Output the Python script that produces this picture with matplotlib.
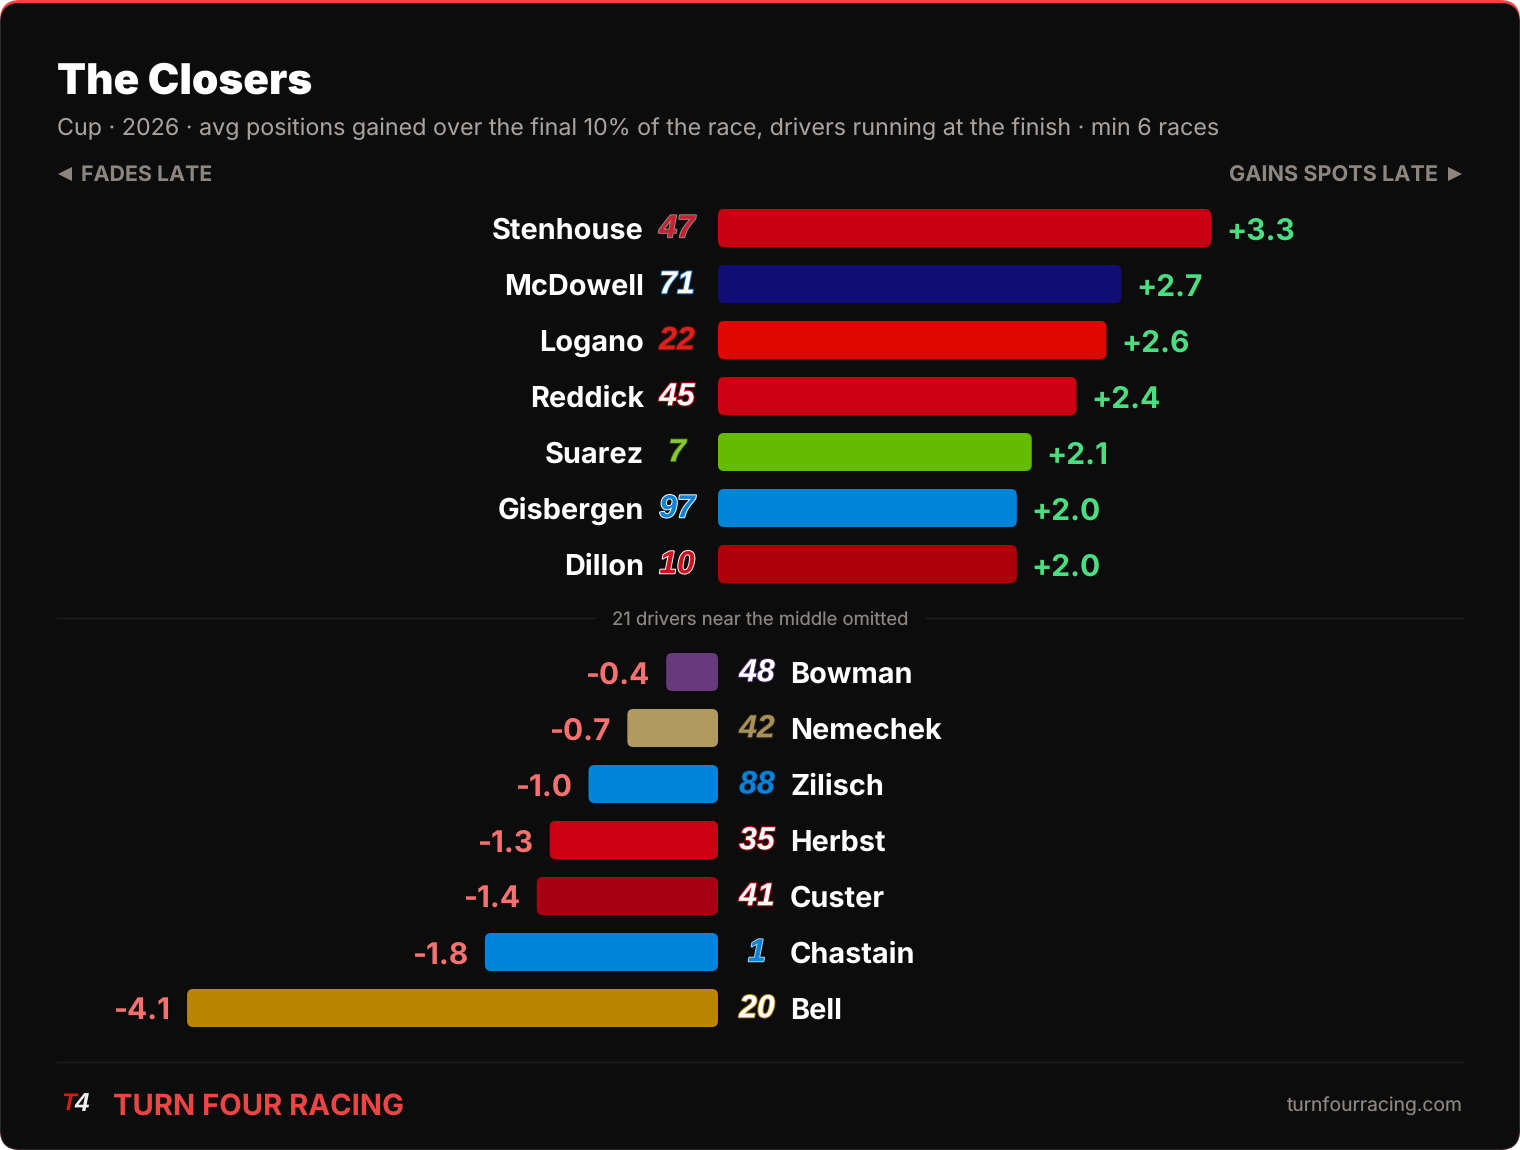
import matplotlib
matplotlib.use("Agg")
import matplotlib.pyplot as plt
import matplotlib.patheffects as pe
from matplotlib.patches import FancyBboxPatch

plt.rcParams['font.family'] = ['Inter', 'DejaVu Sans']
plt.rcParams['text.hinting'] = 'no_hinting'
plt.rcParams['text.hinting_factor'] = 1

W, H = 1520, 1150

# drivers near the top of the table
top_names = ["Stenhouse", "McDowell", "Logano", "Reddick", "Suarez", "Gisbergen", "Dillon"]
top_values = [3.3, 2.7, 2.6, 2.4, 2.1, 2.0, 2.0]
top_colors = ["#c80012", "#100e75", "#de0800", "#cc0012", "#65bb00", "#0084d8", "#ae0008"]
top_numbers = ["47", "71", "22", "45", "7", "97", "10"]
top_fill = ["#c8202e", "#ffffff", "#e0201c", "#ffffff", "#8cc832", "#0a84d8", "#d01020"]
top_edge = ["#8a8a8a", "#1a70b8", "#701010", "#c80012", "#2c4a10", "#ffffff", "#ffffff"]

# drivers at the bottom
bot_names = ["Bowman", "Nemechek", "Zilisch", "Herbst", "Custer", "Chastain", "Bell"]
bot_values = [-0.4, -0.7, -1.0, -1.3, -1.4, -1.8, -4.1]
bot_colors = ["#673a7e", "#b09a5e", "#0084d8", "#cc0012", "#a80012", "#0084d8", "#b98400"]
bot_numbers = ["48", "42", "88", "35", "41", "1", "20"]
bot_fill = ["#ffffff", "#a8925a", "#0a84d8", "#ffffff", "#ffffff", "#0a84d8", "#ffffff"]
bot_edge = ["#4a2a6a", "#2a2618", "#0a2a50", "#c80012", "#c80012", "#b0d0e8", "#b98400"]

ZERO_X = 718
TOP_SCALE = 149.4
BOT_SCALE = 129.5
ROW = 56
BAR_H = 38
BG = "#0c0c0d"

fig = plt.figure(figsize=(W / 100, H / 100), dpi=100, facecolor="white")

# background card, everything decorative is laid out in pixels
bg = fig.add_axes([0, 0, 1, 1])
bg.set_xlim(0, W)
bg.set_ylim(H, 0)
bg.axis("off")
bg.add_patch(FancyBboxPatch((0, 0), W, H, boxstyle="round,pad=0,rounding_size=20",
                            fc="#f24444", ec="none"))
bg.add_patch(FancyBboxPatch((0, 3), W, H - 3, boxstyle="round,pad=0,rounding_size=20",
                            fc="#2a2a2c", ec="none"))
bg.add_patch(FancyBboxPatch((1, 3), W - 2, H - 4, boxstyle="round,pad=0,rounding_size=19",
                            fc=BG, ec="none"))


def draw_rows(values, colors, y_first, scale):
    # one axes per group: same zero line, own x scale
    n = len(values)
    y0 = y_first - ROW / 2
    h = ROW * n
    ax = fig.add_axes([0, 1 - (y0 + h) / H, 1, h / H])
    ax.set_xlim(-ZERO_X / scale, (W - ZERO_X) / scale)
    ax.set_ylim(n - 0.5, -0.5)
    ax.axis("off")
    ax.patch.set_alpha(0)
    bar_h = BAR_H / ROW
    for i, (v, c) in enumerate(zip(values, colors)):
        ax.add_patch(FancyBboxPatch((min(v, 0), i - bar_h / 2), abs(v), bar_h,
                                    boxstyle="round,pad=0,rounding_size=%f" % (6 / scale),
                                    mutation_aspect=scale / ROW, fc=c, ec="none"))
    return ax


def number_badge(x, y, num, fill, edge):
    bg.text(x, y, num, fontsize=23, family="Liberation Sans", style="italic", weight="bold",
            color=fill, ha="center", va="center",
            path_effects=[pe.withStroke(linewidth=1.4, foreground=edge)])


ax_top = draw_rows(top_values, top_colors, 228, TOP_SCALE)
ax_bot = draw_rows(bot_values, bot_colors, 672, BOT_SCALE)

for i in range(7):
    y = 229 + i * ROW
    bg.text(644, y + 2, top_names[i], color="#ffffff", fontsize=20.8, weight="bold",
            ha="right", va="center")
    number_badge(677, y, top_numbers[i], top_fill[i], top_edge[i])
    ax_top.text(top_values[i] + 15 / TOP_SCALE, i + 4 / ROW, "+%.1f" % top_values[i], color="#4ade80",
                fontsize=21.5, weight="bold", ha="left", va="center")

    y = 673 + i * ROW
    bg.text(790, y + 2, bot_names[i], color="#ffffff", fontsize=20.8, weight="bold",
            ha="left", va="center")
    number_badge(757, y, bot_numbers[i], bot_fill[i], bot_edge[i])
    ax_bot.text(bot_values[i] - 16 / BOT_SCALE, i + 4 / ROW, "%.1f" % bot_values[i], color="#f87171",
                fontsize=21.5, weight="bold", ha="right", va="center")

# header
bg.text(57, 83, "The Closers", color="#ffffff", fontsize=30.5, weight="black", va="center")
bg.text(57, 129, "Cup · 2026 · avg positions gained over the final 10% of the race, "
        "drivers running at the finish · min 6 races", color="#a8a29e", fontsize=16.75, va="center")
bg.text(81, 176, "FADES LATE", color="#8c8680", fontsize=15.4, weight="bold", va="center")
bg.text(1438, 176, "GAINS SPOTS LATE", color="#8c8680", fontsize=15.6, weight="bold",
        va="center", ha="right")
bg.fill([58, 72, 72], [174, 167, 181], color="#8c8680", lw=0)
bg.fill([1462, 1448, 1448], [174, 167, 181], color="#8c8680", lw=0)

# separator between the two groups
bg.plot([57, 594], [617.5, 617.5], color="#1f1f21", lw=1)
bg.plot([926, 1463], [617.5, 617.5], color="#1f1f21", lw=1)
bg.text(760, 620, "21 drivers near the middle omitted", color="#8c8680", fontsize=13.3,
        ha="center", va="center")

# footer
bg.plot([57, 1463], [1061.5, 1061.5], color="#1f1f21", lw=1)
bg.text(61, 1104, "T", color="#d02010", fontsize=17, family="Liberation Sans", style="italic",
        weight="bold", va="center")
bg.text(74, 1104, "4", color="#f0f0f0", fontsize=19, family="Liberation Sans", style="italic",
        weight="bold", va="center")
bg.text(113, 1107, "TURN FOUR RACING", color="#ef4444", fontsize=21, weight="bold", va="center")
bg.text(1463, 1106, "turnfourracing.com", color="#8c8680", fontsize=13.9, ha="right", va="center")

fig.savefig("out.png", dpi=100, facecolor="white")
